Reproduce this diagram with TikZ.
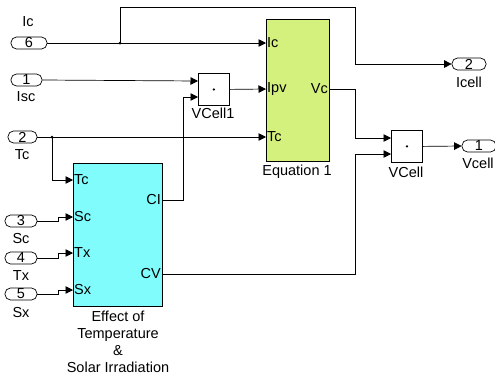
\documentclass[tikz,border=0pt]{standalone}
\usepackage{fontspec}
\setmainfont{Liberation Sans}
\usetikzlibrary{calc,positioning,arrows,arrows.meta,shapes}
\definecolor{tempcyan}{RGB}{128,252,252}
\definecolor{eqgreen}{RGB}{212,240,125}

\begin{document}
\begin{tikzpicture}[x=1pt, y=-1pt, font=\fontsize{14.5}{17}\selectfont]
\tikzstyle{port}=[draw, rounded corners=5.5pt, minimum height=12pt, inner sep=0pt, line width=0.7pt]
\tikzstyle{blk}=[draw, line width=0.8pt, anchor=north west, inner sep=0pt]
\tikzstyle{lbl}=[inner sep=1pt]
\tikzstyle{sig}=[line width=0.7pt, -{Triangle[length=7.5pt,width=7.5pt]}]
\tikzstyle{dot}=[circle, fill, inner sep=0pt, minimum size=3pt]

\useasboundingbox (0,0) rectangle (495,381);

% blocks
\node[blk, fill=tempcyan, minimum width=89pt, minimum height=143pt] (temp) at (73,163) {};
\node[blk, fill=eqgreen, minimum width=63pt, minimum height=142pt] (eq) at (266,19) {};
\node[blk, minimum width=31pt, minimum height=32pt] (vc1) at (198,73) {};
\node[blk, minimum width=31pt, minimum height=32pt] (vc) at (391,130) {};
\node[dot, minimum size=2.5pt] at (vc1.center) {};
\node[dot, minimum size=2.5pt] at (vc.center) {};

% block names
\node[lbl] at (213,113) {VCell1};
\node[lbl] at (297,172) {Equation 1};
\node[lbl] at (406,172) {VCell};
\node[lbl, align=center, font=\fontsize{14.5}{17}\selectfont] at (118,342) {Effect of\\Temperature\\\&\\Solar Irradiation};

% ports of the blocks
\coordinate (tTc) at (73,180);
\coordinate (tSc) at (73,217);
\coordinate (tTx) at (73,253);
\coordinate (tSx) at (73,290);
\coordinate (tCI) at (162,200);
\coordinate (tCV) at (162,274);
\coordinate (eIc) at (266,43);
\coordinate (eIpv) at (266,89);
\coordinate (eTc) at (266,137);
\coordinate (eVc) at (329,89);
\coordinate (v1a) at (198,81);
\coordinate (v1b) at (198,97);
\coordinate (va) at (391,138);
\coordinate (vb) at (391,154);
\node[lbl, anchor=west] at (tTc) {Tc};
\node[lbl, anchor=west] at (tSc) {Sc};
\node[lbl, anchor=west] at (tTx) {Tx};
\node[lbl, anchor=west] at (tSx) {Sx};
\node[lbl, anchor=east] at (tCI) {CI};
\node[lbl, anchor=east] at (tCV) {CV};
\node[lbl, anchor=west] at (eIc) {Ic};
\node[lbl, anchor=west] at (eIpv) {Ipv};
\node[lbl, anchor=west] at (eTc) {Tc};
\node[lbl, anchor=east] at (eVc) {Vc};

% inports
\node[port, minimum width=36pt] (in6) at (29,43) {6};
\node[port, minimum width=31pt] (in1) at (26.5,80) {1};
\node[port, minimum width=29pt] (in2) at (22.5,137) {2};
\node[port, minimum width=32pt] (in3) at (21,221) {3};
\node[port, minimum width=32pt] (in4) at (21,258) {4};
\node[port, minimum width=32pt] (in5) at (21,294) {5};
\node[lbl] at (28,22) {Ic};
\node[lbl] at (26,97) {Isc};
\node[lbl] at (22,155) {Tc};
\node[lbl] at (21,239) {Sc};
\node[lbl] at (21,276) {Tx};
\node[lbl] at (21,313) {Sx};

% outports
\node[port, minimum width=34pt] (out2) at (469,64) {2};
\node[port, minimum width=34pt] (out1) at (479,146) {1};
\node[lbl] at (469,82) {Icell};
\node[lbl] at (478,163) {Vcell};

% junctions
\coordinate (j6) at (120,43);
\coordinate (j2) at (52,137);
\node[dot] at (j6) {};
\node[dot] at (j2) {};

% signals
\draw[sig] (in6.east) -- (eIc);
\draw[sig] (j6) -- ++(0,-36) -| (355,64) -- (out2.west);
\draw[sig] (in1.east) -- (v1a);
\draw[sig] (in2.east) -- (eTc);
\draw[sig] (j2) |- (tTc);
\draw[sig] (in3.east) -- (58,221) |- (tSc);
\draw[sig] (in4.east) -- (58,258) |- (tTx);
\draw[sig] (in5.east) -- (58,294) |- (tSx);
\draw[sig] (tCI) -| (183,97) -- (v1b);
\draw[sig] (vc1.east) -- (eIpv);
\draw[sig] (eVc) -| (355,138) -- (va);
\draw[sig] (tCV) -| (355,154) -- (vb);
\draw[sig] (vc.east) -- (out1.west);
\end{tikzpicture}
\end{document}
